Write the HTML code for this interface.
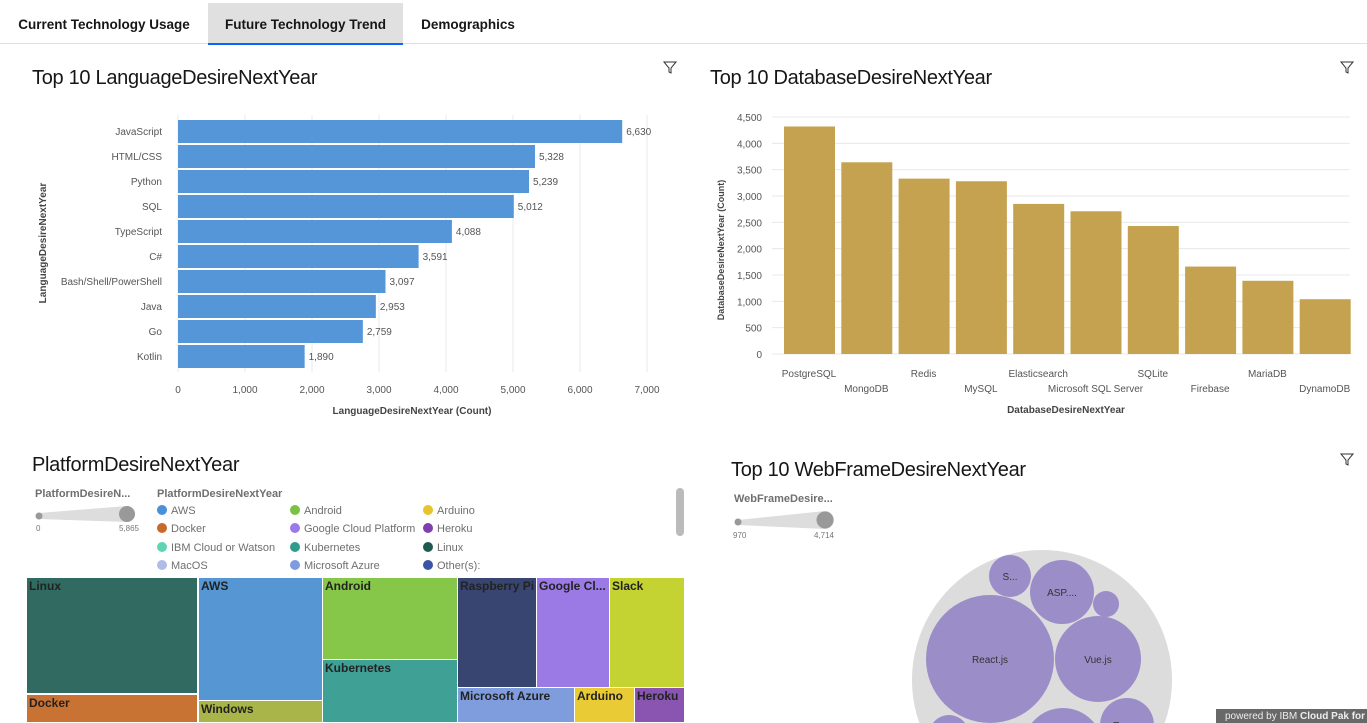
<!DOCTYPE html>
<html><head><meta charset="utf-8"><style>
html,body{margin:0;width:1367px;height:723px;overflow:hidden;background:#fff}
body{font-family:"Liberation Sans",sans-serif}
#wrap{position:relative;width:1367px;height:723px;overflow:hidden}
.abs{position:absolute}
.tab{position:absolute;top:3px;height:40px;line-height:44px;font-size:13.5px;font-weight:bold;color:#161616;text-align:center}
.title{position:absolute;font-size:20px;color:#161616;letter-spacing:-0.3px}
.leg{position:absolute;font-size:11px;color:#6f6f6f}
.dot{display:inline-block;width:10px;height:10px;border-radius:50%;margin-right:4px;vertical-align:-1px}
.tile{position:absolute;box-sizing:border-box;border:1px solid #fff;font-size:12px;font-weight:bold;color:#222;padding:1px 2px;overflow:hidden;white-space:nowrap}
</style></head><body><div id="wrap">
<div class="abs" style="left:0;top:0;width:1367px;height:43px;border-bottom:1px solid #e0e0e0"></div>
<div class="tab" style="left:8px;width:192px">Current Technology Usage</div>
<div class="tab" style="left:208px;width:195px;background:#e0e0e0;border-bottom:2px solid #0f62fe">Future Technology Trend</div>
<div class="tab" style="left:405px;width:126px">Demographics</div>

<div class="title" style="left:32px;top:67px">Top 10 LanguageDesireNextYear</div>
<div class="title" style="left:710px;top:67px">Top 10 DatabaseDesireNextYear</div>
<div class="title" style="left:32px;top:454px">PlatformDesireNextYear</div>
<div class="title" style="left:731px;top:459px">Top 10 WebFrameDesireNextYear</div>

<svg class="abs" style="left:0;top:0;overflow:hidden" width="1367" height="723" font-family="Liberation Sans, sans-serif">
<defs><clipPath id="clipb"><rect x="700" y="440" width="667" height="283"/></clipPath></defs>
<g id="lang"></g><g id="db"></g><g id="bub" clip-path="url(#clipb)"></g>
<g fill="none" stroke="#333" stroke-width="1">
<path d="M664 62h12l-5 6v5l-2-1v-4z"/><path d="M1341 62h12l-5 6v5l-2-1v-4z"/><path d="M1341 454h12l-5 6v5l-2-1v-4z"/>
</g>
</svg>

<div class="leg" style="left:35px;top:488px;font-weight:bold">PlatformDesireN...</div>
<svg class="abs" style="left:34px;top:503px" width="105" height="30"><path d="M5 10 L93 3 A8 8 0 0 1 93 19 L5 16 Z" fill="#ddd"/><circle cx="5" cy="13" r="3.5" fill="#999"/><circle cx="93" cy="11" r="8" fill="#999"/><text x="2" y="28" font-size="8" fill="#777">0</text><text x="105" y="28" font-size="8" fill="#777" text-anchor="end">5,865</text></svg>
<div class="leg" style="left:157px;top:488px;font-weight:bold">PlatformDesireNextYear</div>
<div id="pleg"></div>
<div class="abs" style="left:676px;top:488px;width:8px;height:48px;background:#bbb;border-radius:4px"></div>
<div id="tree"></div>

<div class="leg" style="left:734px;top:493px;font-weight:bold">WebFrameDesire...</div>
<svg class="abs" style="left:733px;top:508px" width="105" height="32"><path d="M5 12 L92 3 A9 9 0 0 1 92 21 L5 17 Z" fill="#ddd"/><circle cx="5" cy="14" r="3.5" fill="#999"/><circle cx="92" cy="12" r="8.5" fill="#999"/><text x="0" y="30" font-size="8" fill="#777">970</text><text x="101" y="30" font-size="8" fill="#777" text-anchor="end">4,714</text></svg>

<div class="abs" style="left:1216px;top:709px;width:142px;height:14px;background:#686868;color:#eee;font-size:10px;line-height:16px;padding-left:9px;white-space:nowrap;overflow:hidden">powered by IBM <b>Cloud Pak for Data</b></div>

<script>
const langCats=["JavaScript","HTML/CSS","Python","SQL","TypeScript","C#","Bash/Shell/PowerShell","Java","Go","Kotlin"];
const langVals=[6630,5328,5239,5012,4088,3591,3097,2953,2759,1890];
const langTicks=[0,1000,2000,3000,4000,5000,6000,7000];
const dbCats=["PostgreSQL","MongoDB","Redis","MySQL","Elasticsearch","Microsoft SQL Server","SQLite","Firebase","MariaDB","DynamoDB"];
const dbVals=[4320,3640,3330,3280,2850,2710,2430,1660,1390,1040];
const dbTicks=[0,500,1000,1500,2000,2500,3000,3500,4000,4500];
const NS="http://www.w3.org/2000/svg";
function mk(p,t,a,txt){const e=document.createElementNS(NS,t);for(const k in a)e.setAttribute(k,a[k]);if(txt!==undefined)e.textContent=txt;p.appendChild(e);return e;}
const fmt=v=>v.toLocaleString("en-US");
const L=document.getElementById("lang");
const lx=v=>178+v*(469/7000), ly=i=>120+i*25;
langTicks.forEach(t=>{const g=mk(L,"line",{x1:lx(t),x2:lx(t),y1:115,y2:372,stroke:"#e8e8e8"});


const tx=mk(L,"text",{x:lx(t),y:393,"font-size":10,fill:"#555","text-anchor":"middle"},fmt(t));

});
langCats.forEach((c,i)=>{const r=mk(L,"rect",{x:178,y:ly(i),width:lx(langVals[i])-178,height:23,fill:"#5596d8"});


const a=mk(L,"text",{x:162,y:ly(i)+15,"font-size":10,fill:"#555","text-anchor":"end"},c);


const b=mk(L,"text",{x:lx(langVals[i])+4,y:ly(i)+15,"font-size":10,fill:"#555"},fmt(langVals[i]));

});
let t1=mk(L,"text",{x:412,y:414,"font-size":10,"font-weight":"bold",fill:"#444","text-anchor":"middle"},"LanguageDesireNextYear (Count)");


let t2=mk(L,"text",{x:46,y:243,"font-size":10,"font-weight":"bold",fill:"#444","text-anchor":"middle",transform:"rotate(-90 46 243)"},"LanguageDesireNextYear");


const D=document.getElementById("db");
const dy=v=>354-v*(237/4500), dx=i=>784+i*57.3;
dbTicks.forEach(t=>{const g=mk(D,"line",{x1:772,x2:1350,y1:dy(t),y2:dy(t),stroke:"#e8e8e8"});


const tx=mk(D,"text",{x:762,y:dy(t)+4,"font-size":10,fill:"#555","text-anchor":"end"},fmt(t));

});
dbCats.forEach((c,i)=>{const r=mk(D,"rect",{x:dx(i),y:dy(dbVals[i]),width:51,height:354-dy(dbVals[i]),fill:"#c4a24f"});


const a=mk(D,"text",{x:dx(i)+25,y:i%2?392:377,"font-size":10,fill:"#555","text-anchor":"middle"},c);

});
t1=mk(D,"text",{x:1066,y:413,"font-size":10,"font-weight":"bold",fill:"#444","text-anchor":"middle"},"DatabaseDesireNextYear");


t2=mk(D,"text",{x:724,y:250,"font-size":9,"font-weight":"bold",fill:"#444","text-anchor":"middle",transform:"rotate(-90 724 250)"},"DatabaseDesireNextYear (Count)");


const B=document.getElementById("bub");
let oc=mk(B,"circle",{cx:1042,cy:680,r:130,fill:"#dcdcdc"});


[[990,659,64,"React.js"],[1098,659,43,"Vue.js"],[1062,592,32,"ASP...."],[1010,576,21,"S..."],[1106,604,13,""],[1127,725,27,"Expr..."],[1063,748,40,""],[949,735,20,""]].forEach(b=>{
const c=mk(B,"circle",{cx:b[0],cy:b[1],r:b[2],fill:"#9b8dc7"});


if(b[3]){const t=mk(B,"text",{x:b[0],y:b[1]+4,"font-size":10,fill:"#333","text-anchor":"middle"},b[3]);

}});
const legItems=[["AWS","#4a90d9"],["Docker","#c8692c"],["IBM Cloud or Watson","#5fd4b4"],["MacOS","#b0bce8"],["Android","#7cc242"],["Google Cloud Platform","#9b79e8"],["Kubernetes","#2f9c8c"],["Microsoft Azure","#7f9be0"],["Arduino","#e8c42c"],["Heroku","#7e3fb0"],["Linux","#1e5a50"],["Other(s):","#3b55a6"]];
const PL=document.getElementById("pleg");
legItems.forEach((it,i)=>{const d=document.createElement("div");d.className="leg";


d.style.left=(157+Math.floor(i/4)*133)+"px";d.style.top=(505+(i%4)*18.3)+"px";
d.innerHTML='<span class="dot" style="background:'+it[1]+'"></span>'+it[0];PL.appendChild(d);});
const tiles=[["Linux",26,577,172,117,"#316a60"],["Docker",26,694,172,29,"#c87334"],["AWS",198,577,125,124,"#5596d3"],["Windows",198,700,125,23,"#a9b548"],["Android",322,577,136,83,"#86c648"],["Kubernetes",322,659,136,64,"#3fa095"],["Raspberry Pi",457,577,80,111,"#384571"],["Google Cl...",536,577,74,111,"#9b7ae5"],["Slack",609,577,76,111,"#c4d232"],["Microsoft Azure",457,687,118,36,"#7f9ddd"],["Arduino",574,687,61,36,"#e9cb36"],["Heroku",634,687,51,36,"#8a55b0"]];
const T=document.getElementById("tree");
tiles.forEach(t=>{const d=document.createElement("div");d.className="tile";


d.style.cssText="left:"+t[1]+"px;top:"+t[2]+"px;width:"+t[3]+"px;height:"+t[4]+"px;background:"+t[5];
d.textContent=t[0];T.appendChild(d);});
</script>
</div></body></html>
